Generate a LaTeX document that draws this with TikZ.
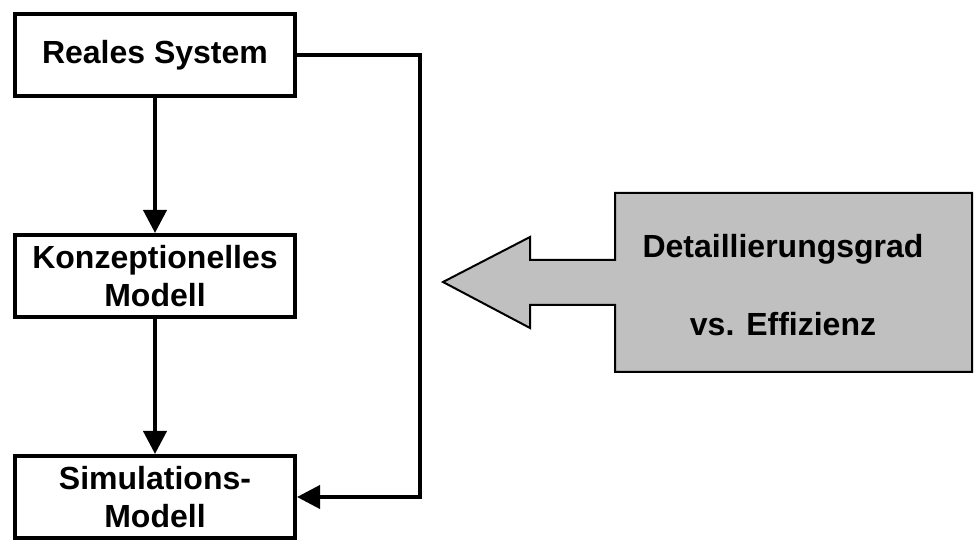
\documentclass[tikz,border=0pt]{standalone}
\usepackage{fontspec}
\setmainfont{Liberation Sans}
\usetikzlibrary{arrows.meta,positioning}

\begin{document}
\begin{tikzpicture}[x=0.5pt,y=0.5pt,
    box/.style={draw,line width=2pt,rectangle,minimum width=140pt,minimum height=41pt,
                inner sep=2pt,align=center,font=\fontsize{16}{19}\selectfont\bfseries},
    flow/.style={line width=2pt,-{Triangle[width=11.5pt,length=11.5pt]}},
    bigarrow/.style={draw,line width=1pt,fill={rgb,255:red,192;green,192;blue,192}}]

        \useasboundingbox (0,0) rectangle (974,540);

        \node [box] (A) at (155,485) {Reales System};
        \node [box, below = 67.5pt of A] (B) {Konzeptionelles\\Modell};
        \node [box, below = 67.5pt of B] (C) {Simulations-\\Modell};
        \coordinate (turn) at (420,485);

        \draw [flow] (A) -- (B);
        \draw [flow] (B) -- (C);
        \draw [flow] (A.east) -- (turn) |- (C.east);

        \draw [bigarrow] (972,347) -- (615,347) -- (615,280) -- (530,280) -- (530,303)
          -- (443,258) -- (530,212) -- (530,235) -- (615,235) -- (615,168) -- (972,168) -- cycle;
        \node [align=center,font=\fontsize{16}{19}\selectfont\bfseries] (D) at (783,255)
          {Detaillierungsgrad\\[20pt]vs. Effizienz};
        \end{tikzpicture}
\end{document}
